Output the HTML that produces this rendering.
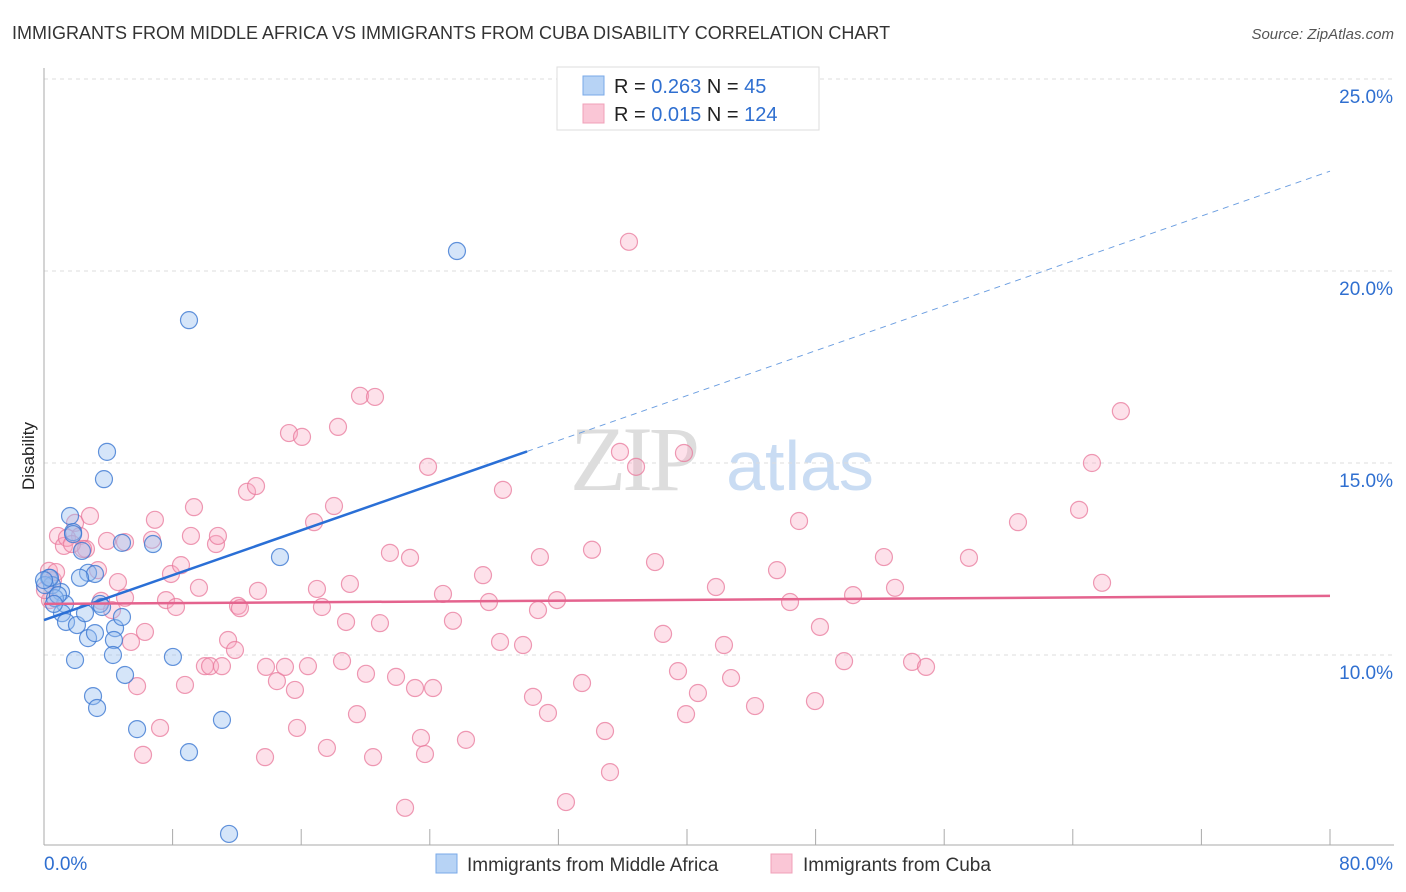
<!DOCTYPE html>
<html><head><meta charset="utf-8"><style>
body{margin:0;background:#fff;font-family:"Liberation Sans",sans-serif;}
svg{display:block}
</style></head><body>
<svg id="chart" width="1406" height="892" viewBox="0 0 1406 892">
<text x="12" y="39" font-size="18" fill="#333">IMMIGRANTS FROM MIDDLE AFRICA VS IMMIGRANTS FROM CUBA DISABILITY CORRELATION CHART</text>
<text x="1394" y="39" font-size="15" fill="#555" text-anchor="end" font-style="italic">Source: ZipAtlas.com</text>
<text x="34" y="456" font-size="17" fill="#222" text-anchor="middle" transform="rotate(-90 34 456)">Disability</text>
<g>
<text x="633" y="490" font-size="92" fill="#ddd" text-anchor="middle" font-family="Liberation Serif,serif" letter-spacing="-4">ZIP</text>
<text x="800" y="490" font-size="70" fill="#c9dcf3" text-anchor="middle">atlas</text>
</g>
<g id="grid"></g>
<g id="axes"></g>
<g id="marks"></g>
<g>
<rect x="557" y="67" width="262" height="63" fill="#fff" stroke="#ddd"/>
<rect x="583" y="76" width="21" height="19" fill="#b7d3f5" stroke="#7aaae8"/>
<rect x="583" y="104" width="21" height="19" fill="#fac6d6" stroke="#f0a0b8"/>
<text x="614" y="93" font-size="20" fill="#222">R = <tspan fill="#2f6fd0">0.263</tspan>   N =  <tspan fill="#2f6fd0">45</tspan></text>
<text x="614" y="121" font-size="20" fill="#222">R = <tspan fill="#2f6fd0">0.015</tspan>   N = <tspan fill="#2f6fd0">124</tspan></text>
</g>
<g>
<rect x="436" y="854" width="21" height="19" fill="#b7d3f5" stroke="#7aaae8"/>
<text x="467" y="871" font-size="19" fill="#333">Immigrants from Middle Africa</text>
<rect x="771" y="854" width="21" height="19" fill="#fac6d6" stroke="#f0a0b8"/>
<text x="803" y="871" font-size="19" fill="#333">Immigrants from Cuba</text>
</g>
</svg>
<script>
const yTicks=[10,15,20,25];
const yTickLabels=["10.0%","15.0%","20.0%","25.0%"];
const xTicks=[0,8,16,24,32,40,48,56,64,72,80];
const blueX=[1.62,1.81,2.36,2.74,3.17,2.24,1.06,1.31,0.31,0.50,0.68,1.12,1.37,2.05,1.93,2.74,3.17,2.55,3.48,3.61,4.42,4.35,4.29,4.85,5.04,3.05,3.30,5.79,9.02,11.07,8.02,4.85,6.78,3.73,3.92,9.02,25.69,14.68,11.51,0.06,0.37,0.87,1.81,0.62,0];
const blueY=[13.62,13.20,12.71,12.14,12.11,12.01,11.64,11.33,12.01,11.82,11.48,11.09,10.86,10.78,9.87,10.44,10.57,11.09,11.33,11.25,10.70,10.39,10.00,10.99,9.48,8.93,8.62,8.07,7.47,8.31,9.95,12.92,12.89,14.58,15.29,18.72,20.52,12.55,5.34,11.82,12.01,11.56,13.15,11.33,11.95];
const pinkX=[0.87,1.24,1.93,2.24,2.86,2.61,3.92,5.04,4.60,5.04,3.55,4.23,6.28,5.41,6.90,6.72,7.59,8.21,7.90,8.52,9.33,9.14,9.64,10.70,10.82,11.45,11.88,10.01,10.33,11.07,12.07,12.19,13.31,12.63,13.19,15.24,16.05,18.29,19.66,20.59,18.04,16.80,16.98,17.29,19.03,18.79,20.90,21.52,22.77,23.89,24.82,25.44,27.68,27.31,28.55,30.85,30.73,31.91,34.09,35.83,36.83,39.81,38.01,36.39,38.51,39.44,40.68,41.80,42.30,42.74,39.94,44.23,45.60,46.41,46.97,48.27,47.96,49.77,50.33,52.25,52.94,54.00,54.87,57.54,60.59,64.39,65.19,66.99,65.82,5.79,6.16,7.22,8.77,13.81,14.49,15.61,14.99,16.42,15.74,17.60,18.54,19.47,20.03,20.47,21.90,23.08,24.20,23.45,23.70,22.46,26.25,28.37,29.80,30.42,31.35,32.47,33.47,34.90,35.21,13.75,0.31,0.56,0.75,0.37,1.43,1.74,3.36,2.43,0.06];
const pinkY=[13.10,12.84,13.44,13.10,13.62,12.76,12.97,12.94,11.90,11.49,11.41,11.17,10.60,10.34,13.52,13.00,11.43,11.25,12.11,12.34,13.85,13.10,11.75,12.89,13.10,10.39,10.13,9.71,9.71,9.71,11.28,11.22,11.67,14.25,14.40,15.78,15.68,15.94,16.75,16.72,13.88,13.46,11.72,11.25,11.85,10.86,10.83,12.66,12.53,14.90,11.59,10.89,11.38,12.08,14.30,12.55,11.17,11.43,12.74,15.29,14.90,15.26,12.42,20.76,10.55,9.58,9.01,11.77,10.26,9.40,8.46,8.67,12.21,11.38,13.49,10.73,8.80,9.84,11.56,12.55,11.75,9.82,9.69,12.53,13.46,13.78,15.00,16.35,11.88,9.19,7.40,8.10,9.22,9.69,9.32,9.09,9.69,9.71,8.10,7.58,9.84,8.46,9.51,7.34,9.43,9.14,9.14,7.84,7.42,6.02,7.79,10.34,10.26,8.91,8.49,6.17,9.27,8.02,6.95,7.34,12.19,11.95,12.16,11.43,13.05,12.89,12.21,12.76,11.69];
const blueTrend=[10.91,22.60];
const blueSolidEnd=30.05;
const pinkTrend=[11.33,11.54];

const NS="http://www.w3.org/2000/svg";
const X0=44,X1=1330;
function sx(v){return X0+(X1-X0)*v/80;}
function sy(v){return 79+(25-v)*38.4;}
function mk(tag,attrs,parent){const e=document.createElementNS(NS,tag);for(const k in attrs)e.setAttribute(k,attrs[k]);parent.appendChild(e);return e;}
const grid=document.getElementById('grid'),axes=document.getElementById('axes'),marks=document.getElementById('marks');
yTicks.forEach((t,i)=>{
 const l=mk('line',{x1:X0,x2:1394,y1:sy(t),y2:sy(t),stroke:'#ddd','stroke-dasharray':'4,4'},grid);
 
 
 const tx=mk('text',{x:1393,y:sy(t)+24,'font-size':19,fill:'#2f6fd0','text-anchor':'end'},axes);
 tx.textContent=yTickLabels[i];
 
 
});
const ya=mk('line',{x1:X0,x2:X0,y1:68,y2:845,stroke:'#aaa'},axes);


const xa=mk('line',{x1:X0,x2:1394,y1:845,y2:845,stroke:'#aaa'},axes);


xTicks.forEach(t=>{
 const l=mk('line',{x1:sx(t),x2:sx(t),y1:829,y2:845,stroke:'#aaa'},axes);
 
 
});
[['0.0%',X0,'start'],['80.0%',1393,'end']].forEach(a=>{
 const tx=mk('text',{x:a[1],y:870,'font-size':19,fill:'#2f6fd0','text-anchor':a[2]},axes);
 tx.textContent=a[0];
 
 
});
pinkX.forEach((v,i)=>{
 const c=mk('circle',{cx:sx(v),cy:sy(pinkY[i]),r:8.5,fill:'rgba(248,170,195,0.35)',stroke:'rgba(232,120,155,0.75)','stroke-width':1.2},marks);
 
 
});
blueX.forEach((v,i)=>{
 const c=mk('circle',{cx:sx(v),cy:sy(blueY[i]),r:8.5,fill:'rgba(150,190,240,0.4)',stroke:'rgba(60,120,210,0.8)','stroke-width':1.2},marks);
 
 
});
function by(x){return blueTrend[0]+(blueTrend[1]-blueTrend[0])*x/80;}
const bs=mk('line',{x1:sx(0),y1:sy(by(0)),x2:sx(blueSolidEnd),y2:sy(by(blueSolidEnd)),stroke:'#2a6fd6','stroke-width':2.5},marks);


const bd=mk('line',{x1:sx(blueSolidEnd),y1:sy(by(blueSolidEnd)),x2:sx(80),y2:sy(by(80)),stroke:'#6a9de0','stroke-width':1,'stroke-dasharray':'6,5'},marks);


const pl=mk('line',{x1:sx(0),y1:sy(pinkTrend[0]),x2:sx(80),y2:sy(pinkTrend[1]),stroke:'#e4638e','stroke-width':2.5},marks);


</script>
</body></html>
